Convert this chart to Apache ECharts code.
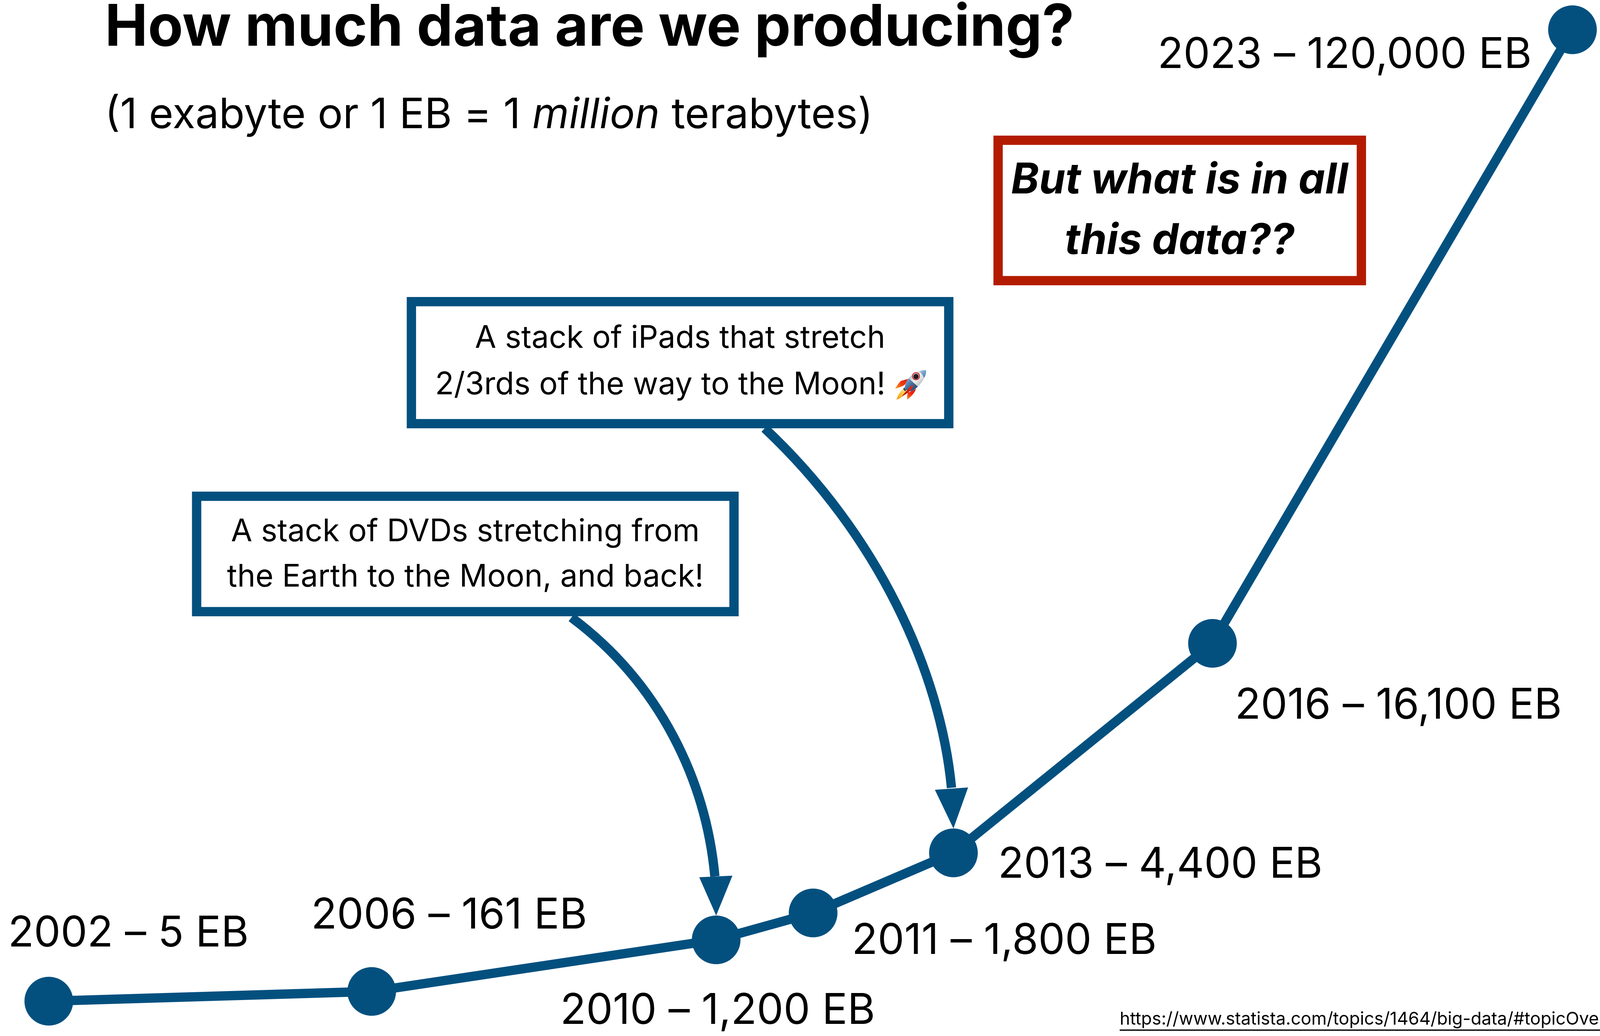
<!DOCTYPE html>
<html><head><meta charset="utf-8">
<style>html,body{margin:0;padding:0;background:#fff;width:100%;height:100%;overflow:hidden}#c{width:100vw;height:100vh}</style>
<script src="https://cdn.jsdelivr.net/npm/echarts@6/dist/echarts.min.js"></script>
</head><body><div id="c"></div>
<script>
// ---- data (schematic slide-position scale, 0-100 on each axis) ----
const years = [2002, 2006, 2010, 2011, 2013, 2016, 2023];
const exabytes = [5, 161, 1200, 1800, 4400, 16100, 120000];
const xProgress = [3.05, 23.23, 44.76, 50.82, 59.59, 75.78, 98.28];
const yHeight = [3.36, 4.30, 9.28, 11.88, 17.68, 37.90, 97.13];
const titleText = 'How much data are we producing?';
const calloutDvd = ['A stack of DVDs stretching from', 'the Earth to the Moon, and back!'];
const calloutIpad = ['A stack of iPads that stretch', '2/3rds of the way to the Moon!'];
const calloutQuestion = ['But what is in all', 'this data??'];
const sourceUrl = 'https://www.statista.com/topics/1464/big-data/#topicOverview';

// ---- style & layout: measured on the 4917x2651 reference, fitted to the real window ----
const W = window.innerWidth, H = window.innerHeight;
const sx = W/4917, sy = H/2651, S = (sx+sy)/2;
const X = v=>v*sx, Y = v=>v*sy, F = v=>v*sx;
const BLUE = '#03507F', RED = '#B31B00', FONT = 'Inter';
const LW = 26*S, R = 68*S;
const labelShift = [[-125,-172],[-186,-194],[-479,182],[119,72],[137,31],[69,160],[-1275,65]];
const arrowShape = [
  {target:2, p0:[1756,1580], c1:[2030,1750], c2:[2170,2000], end:[-4,-100], head:[[-52,-98],[50,-102]]},
  {target:4, p0:[2350,1096], c1:[2700,1370], c2:[2890,1720], end:[-6,-104], head:[[-57,-99],[45,-105]]}
];
const labels = years.map((y,i)=>y+' – '+exabytes[i].toLocaleString('en-US')+' EB');
const points = xProgress.map((x,i)=>[x,yHeight[i]]);

function box(x0,y0,x1,y1,color){
  return {type:'rect',z:5,shape:{x:X(x0)+LW/2,y:Y(y0)+LW/2,width:X(x1-x0)-LW,height:Y(y1-y0)-LW},
    style:{fill:'#fff',stroke:color,lineWidth:LW}};
}
function txt(x,y,lines,size,extra){
  return {type:'text',z:6,x:X(x),y:Y(y),style:Object.assign({text:lines.join('\n'),fontFamily:FONT,fontSize:F(size),
    fill:'#000',align:'center',verticalAlign:'middle',lineHeight:F(size)*1.27},extra||{})};
}
function grad(x0,y0,x1,y1,stops){
  return {type:'linear',x:x0,y:y0,x2:x1,y2:y1,global:false,colorStops:stops.map((c,i)=>({offset:i/(stops.length-1),color:c}))};
}
const rocketParts = [
  {d:'M270 140 L205 158 C185 180 165 205 152 232 C180 220 215 215 245 190 Z',f:grad(1,0,0,1,['#e01a10','#f23a10','#fbb030'])},
  {d:'M345 228 C335 260 320 285 265 330 C260 300 265 280 270 265 L300 255 Z',f:grad(1,0,0,1,['#c81408','#ee2a10','#f98a20'])},
  {d:'M232 235 C205 245 180 285 165 330 C200 325 235 292 252 260 Z',f:grad(1,0,0,1,['#fde870','#fbc030','#f39012'])},
  {d:'M225 232 L240 218 L258 240 L245 255 Z',f:'#444'},
  {d:'M437 60 C390 55 320 85 280 130 C255 160 245 190 240 225 L255 242 L300 255 C340 235 390 190 415 140 C432 110 442 80 437 60 Z',f:grad(0,0,1,1,['#8a9298','#f0f0f0','#6e7a80'])},
  {d:'M437 60 C415 58 395 62 378 68 C395 90 412 115 420 130 C432 110 442 80 437 60 Z',f:grad(0,0,1,1,['#a8c8e0','#3d74aa'])},
  {d:'M278 133 C255 160 245 190 240 225 L255 242 L300 255 C320 245 342 228 362 210 C335 185 305 160 278 133 Z',f:grad(0,0,1,1,['#8ab8dc','#3f6e9c','#1e3c5c'])},
  {d:'M322 192 L290 210 L212 302 C250 282 282 262 302 238 Z',f:grad(1,0,0,1,['#f02a18','#b01008'])}
];
const titleSize = F(177), subSize = F(129);

const option = {
  backgroundColor:'#fff', animation:false,
  title:[
    {text:titleText,left:X(322),top:Y(121)-0.825*titleSize,padding:0,textStyle:{fontFamily:FONT,fontSize:titleSize,fontWeight:700,color:'#000'}},
    {text:'(1 exabyte or 1 EB = 1 {i|million} terabytes)',left:X(322),top:Y(330)-0.814*subSize,padding:0,
      textStyle:{fontFamily:FONT,fontSize:subSize,fontWeight:400,color:'#000',rich:{i:{fontFamily:FONT,fontSize:subSize,fontStyle:'italic',color:'#000'}}}}
  ],
  grid:{left:0,right:0,top:0,bottom:0},
  xAxis:{type:'value',min:0,max:100,show:false},
  yAxis:{type:'value',min:0,max:100,show:false},
  series:[
    {type:'line',data:points,clip:false,z:3,symbol:'circle',symbolSize:2*R,
      lineStyle:{color:BLUE,width:LW},itemStyle:{color:BLUE},
      label:{show:true,formatter:p=>labels[p.dataIndex],color:'#000',fontFamily:FONT,fontSize:F(130),
        align:'left',verticalAlign:'middle'},
      labelLayout:p=>{const s=labelShift[p.dataIndex];return {x:(p.rect.x+p.rect.width/2)+X(s[0]),y:(p.rect.y+p.rect.height/2)+Y(s[1]),align:'left',verticalAlign:'middle'};}
    },
    {type:'custom',coordinateSystem:'cartesian2d',clip:false,z:4,silent:true,
      data:arrowShape.map(a=>points[a.target]),
      renderItem:(params,api)=>{
        const a=arrowShape[params.dataIndex];
        const c=api.coord([api.value(0),api.value(1)]);
        const tip=[c[0],c[1]-R];
        return {type:'group',children:[
          {type:'bezierCurve',shape:{x1:X(a.p0[0]),y1:Y(a.p0[1]),cpx1:X(a.c1[0]),cpy1:Y(a.c1[1]),cpx2:X(a.c2[0]),cpy2:Y(a.c2[1]),x2:tip[0]+X(a.end[0]),y2:tip[1]+Y(a.end[1])},
            style:{stroke:BLUE,lineWidth:LW,fill:null}},
          {type:'polygon',shape:{points:[tip,[tip[0]+X(a.head[0][0]),tip[1]+Y(a.head[0][1])],[tip[0]+X(a.head[1][0]),tip[1]+Y(a.head[1][1])]]},style:{fill:BLUE}}
        ]};
      }
    },
    {type:'custom',coordinateSystem:'none',z:7,silent:true,data:[0],
      renderItem:()=>({type:'group',x:X(2700),y:Y(985)-195*sx/3,scaleX:sx/3,scaleY:sx/3,children:
        rocketParts.map(p=>({type:'path',shape:{pathData:p.d},style:{fill:p.f}})).concat([
          {type:'circle',shape:{cx:345,cy:115,r:37},style:{fill:'#e01018'}},
          {type:'circle',shape:{cx:345,cy:115,r:30},style:{fill:'#b0b4b8'}},
          {type:'circle',shape:{cx:345,cy:118,r:24},style:{fill:'#1b1b1f'}}
        ])})
    }
  ],
  graphic:[
    box(1250,760,2930,1096,BLUE),
    box(590,1258,2270,1577,BLUE),
    box(3053,347,4198,730,RED),
    txt(2090,866,[calloutIpad[0]],95),
    txt(2029,985,[calloutIpad[1]],95),
    txt(1430,1419,calloutDvd,95,{lineHeight:Y(116)}),
    txt(3625,540,calloutQuestion,130,{fontWeight:700,fontStyle:'italic',lineHeight:Y(155)}),
    {type:'text',z:6,x:X(3441),y:Y(2608),style:{text:sourceUrl,fontFamily:FONT,fontSize:F(54),fill:'#000',align:'left',verticalAlign:'middle'}},
    {type:'rect',z:6,shape:{x:X(3441),y:Y(2634),width:W-X(3441),height:4},style:{fill:'#222'}}
  ]
};
const chart=echarts.init(document.getElementById('c'),null,{width:W,height:H,devicePixelRatio:1});
chart.setOption(option);
</script></body></html>
